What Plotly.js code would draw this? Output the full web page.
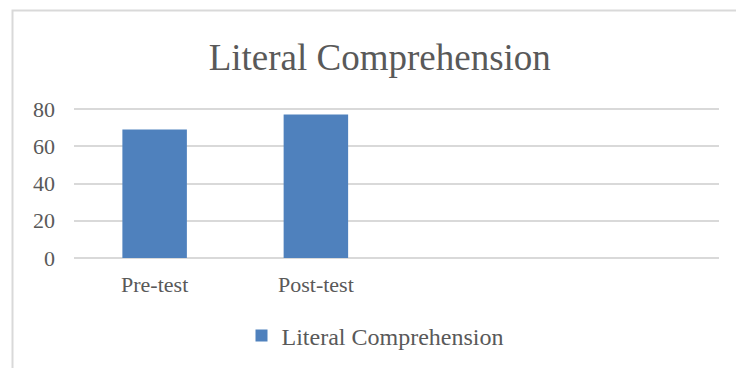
<!DOCTYPE html>
<html>
<head>
<meta charset="utf-8">
<script src="https://cdn.plot.ly/plotly-3.0.1.min.js"></script>
<style>
html,body{margin:0;padding:0;background:#fff;overflow:hidden;width:736px;height:368px;}
#chart{width:736px;height:368px;overflow:hidden;}
#chart svg{overflow:hidden;}
</style>
</head>
<body>
<div id="chart"></div>
<script>
const categories = ["Pre-test", "Post-test"];
const seriesName = "Literal Comprehension";
const values = [69, 77];
const yTicks = [0, 20, 40, 60, 80];

const FONT = "Liberation Serif, Times New Roman, serif";
const TXT = "#595959";

// plot area in pixels
const M = {l: 74, r: 17, t: 107, b: 108};
const W = 736, H = 368;
const PW = W - M.l - M.r, PH = H - M.t - M.b;
const px2x = p => (p - M.l) / PW;
const py2y = p => (H - M.b - p) / PH;

const trace = {
  type: "bar",
  x: categories,
  y: values,
  name: seriesName,
  marker: {color: "#4f81bd", line: {width: 0}},
  showlegend: true,
  hoverinfo: "x+y"
};

const layout = {
  width: W,
  height: H,
  paper_bgcolor: "#ffffff",
  plot_bgcolor: "#ffffff",
  margin: {l: M.l, r: M.r, t: M.t, b: M.b, pad: 0, autoexpand: false},
  font: {family: FONT, color: TXT, size: 22},
  title: {
    text: "Literal Comprehension",
    font: {family: FONT, color: TXT, size: 37},
    xref: "container", yref: "container",
    x: 0.516, xanchor: "center",
    y: 0.845, yanchor: "middle"
  },
  bargap: 0.6,
  xaxis: {
    type: "category",
    categoryorder: "array",
    categoryarray: categories,
    range: [-0.5, 3.5],
    showgrid: false,
    zeroline: false,
    showline: false,
    ticks: "",
    tickfont: {family: FONT, color: TXT, size: 22},
    ticklabelstandoff: 9,
    fixedrange: true
  },
  yaxis: {
    range: [-1.07, 81.07],
    tickvals: yTicks,
    ticktext: yTicks.map(String),
    showgrid: true,
    gridcolor: "#d9d9d9",
    gridwidth: 2,
    zeroline: false,
    showline: false,
    ticks: "",
    tickfont: {family: FONT, color: TXT, size: 22},
    ticklabelstandoff: 18,
    fixedrange: true
  },
  showlegend: true,
  legend: {
    orientation: "h",
    x: px2x(375), xanchor: "center",
    y: py2y(336), yanchor: "middle",
    font: {family: FONT, color: TXT, size: 24},
    bgcolor: "rgba(0,0,0,0)"
  },
  shapes: [{
    type: "rect",
    xref: "paper", yref: "paper",
    x0: px2x(12.5), x1: px2x(740),
    y0: py2y(372), y1: py2y(10.5),
    line: {color: "#d9d9d9", width: 2},
    fillcolor: "rgba(0,0,0,0)",
    layer: "below"
  }]
};

Plotly.newPlot("chart", [trace], layout, {displayModeBar: false, staticPlot: true});
</script>
</body>
</html>
